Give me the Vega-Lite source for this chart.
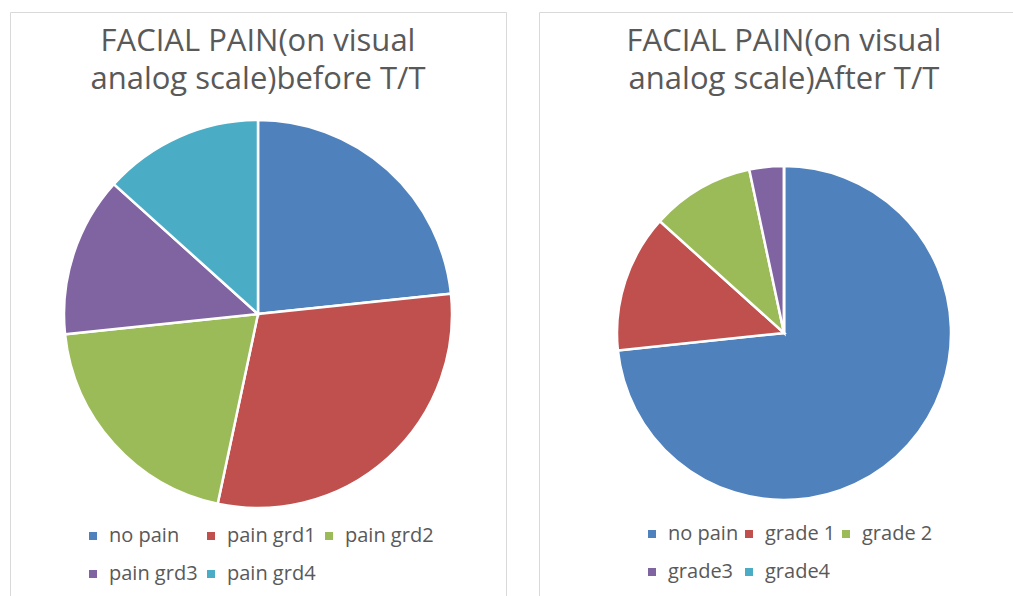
{
  "$schema": "https://vega.github.io/schema/vega-lite/v6.json",
  "background": "white",
  "padding": {"left": 9, "top": 11, "right": 0, "bottom": 0},
  "spacing": 31,
  "config": {
    "view": {"stroke": "#d9d9d9", "strokeWidth": 1},
    "font": "Open Sans",
    "legend": {
      "symbolType": "square",
      "symbolSize": 64,
      "symbolStrokeWidth": 0,
      "labelFontSize": 20,
      "labelFont": "Open Sans",
      "labelColor": "#595959",
      "labelOffset": 6,
      "rowPadding": 18,
      "columnPadding": 1,
      "columns": 3,
      "direction": "horizontal",
      "orient": "none"
    }
  },
  "hconcat": [
    {
      "width": 496,
      "height": 604,
      "view": {"stroke": "#d9d9d9", "strokeWidth": 1, "fill": "white"},
      "title": {
        "text": ["FACIAL PAIN(on visual", "analog scale)before T/T"],
        "offset": -84,
        "fontSize": 31,
        "font": "Open Sans",
        "fontWeight": "normal",
        "color": "#595959",
        "lineHeight": 38,
        "anchor": "middle"
      },
      "data": {
        "values": [
          {"category": "no pain", "count": 7, "idx": 1},
          {"category": "pain grd1", "count": 9, "idx": 2},
          {"category": "pain grd2", "count": 6, "idx": 3},
          {"category": "pain grd3", "count": 4, "idx": 4},
          {"category": "pain grd4", "count": 4, "idx": 5}
        ]
      },
      "mark": {"type": "arc", "outerRadius": 194, "stroke": "white", "strokeWidth": 2.5},
      "encoding": {
        "theta": {"field": "count", "type": "quantitative", "stack": true},
        "order": {"field": "idx", "type": "quantitative"},
        "color": {
          "field": "category",
          "type": "nominal",
          "scale": {
            "domain": ["no pain", "pain grd1", "pain grd2", "pain grd3", "pain grd4"],
            "range": ["#4F81BD", "#C0504D", "#9BBB59", "#8064A2", "#4BACC6"]
          },
          "legend": {"title": null, "legendX": 73, "legendY": 514, "columnPadding": 3}
        }
      }
    },
    {
      "width": 490,
      "height": 642,
      "view": {"stroke": "#d9d9d9", "strokeWidth": 1, "fill": "white"},
      "title": {
        "text": ["FACIAL PAIN(on visual", "analog scale)After T/T"],
        "offset": -84,
        "fontSize": 31,
        "font": "Open Sans",
        "fontWeight": "normal",
        "color": "#595959",
        "lineHeight": 38,
        "anchor": "middle"
      },
      "data": {
        "values": [
          {"category": "no pain", "count": 22, "idx": 1},
          {"category": "grade 1", "count": 4, "idx": 2},
          {"category": "grade 2", "count": 3, "idx": 3},
          {"category": "grade3", "count": 1, "idx": 4},
          {"category": "grade4", "count": 0, "idx": 5}
        ]
      },
      "mark": {"type": "arc", "outerRadius": 167, "stroke": "white", "strokeWidth": 2.5},
      "encoding": {
        "theta": {"field": "count", "type": "quantitative", "stack": true},
        "order": {"field": "idx", "type": "quantitative"},
        "color": {
          "field": "category",
          "type": "nominal",
          "scale": {
            "domain": ["no pain", "grade 1", "grade 2", "grade3", "grade4"],
            "range": ["#4F81BD", "#C0504D", "#9BBB59", "#8064A2", "#4BACC6"]
          },
          "legend": {"title": null, "legendX": 103, "legendY": 512, "columnPadding": -4}
        }
      }
    }
  ],
  "resolve": {"scale": {"color": "independent"}, "legend": {"color": "independent"}}
}
